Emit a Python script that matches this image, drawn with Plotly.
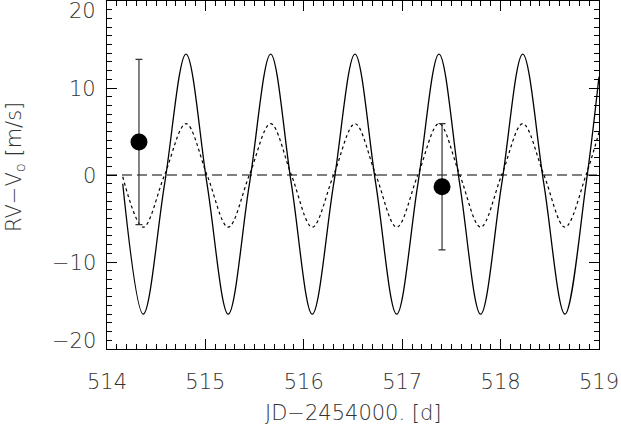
import plotly.graph_objects as go

# extrema and mean-level crossings of the two model curves
model_x = [514.16, 514.368, 514.585, 514.803, 515.017, 515.232, 515.447, 515.663,
           515.874, 516.086, 516.303, 516.52, 516.732, 516.944, 517.159, 517.374,
           517.585, 517.797, 518.011, 518.225, 518.44, 518.654, 518.868, 519.0]
model_full = [-1.0, -16.0, -1.05, 13.9, -1.05, -16.0, -1.05, 13.9,
              -1.05, -16.0, -1.05, 13.9, -1.05, -16.0, -1.05, 13.9,
              -1.05, -16.0, -1.05, 13.9, -1.05, -16.0, -1.05, 11.3]
model_small = [-0.2, -6.0, 0.0, 5.9, 0.0, -6.0, 0.0, 5.9,
               0.0, -6.0, 0.0, 5.9, 0.0, -6.0, 0.0, 5.9,
               0.0, -6.0, 0.0, 5.9, 0.0, -6.0, 0.0, 4.9]

# observations
obs_x = [514.325, 517.405]
obs_rv = [3.8, -1.35]
obs_err = [9.5, 7.25]

x_ticks = [514, 515, 516, 517, 518, 519]
y_ticks = [-20, -10, 0, 10, 20]

FONT = dict(family="DejaVu Sans", size=21, color="#333333", weight=300)

fig = go.Figure()
fig.add_trace(go.Scatter(
    x=[514, 519], y=[0, 0], mode="lines",
    line=dict(color="#555555", width=1.5, dash="10px,5px"),
))
fig.add_trace(go.Scatter(
    x=model_x, y=model_small, mode="lines",
    line=dict(color="black", width=1.2, dash="dot", shape="spline", smoothing=1.0),
))
fig.add_trace(go.Scatter(
    x=model_x, y=model_full, mode="lines",
    line=dict(color="black", width=1.3, shape="spline", smoothing=1.0),
))
fig.add_trace(go.Scatter(
    x=obs_x, y=obs_rv, mode="markers",
    marker=dict(color="black", size=17),
    error_y=dict(type="data", array=obs_err, color="#333333", thickness=1.2, width=3.5),
))

# y tick labels as annotations (IDL keeps the end labels inside the frame)
shifts = {20: -10, -20: 8}
for v in y_ticks:
    fig.add_annotation(
        x=0, xref="paper", xanchor="right", xshift=-9,
        y=v, yref="y", yanchor="middle", yshift=shifts.get(v, -1),
        text=str(v).replace("-", "\u2212"), showarrow=False, font=FONT,
    )

fig.add_annotation(
    x=0.5, xref="paper", y=0, yref="paper", yshift=-50, yanchor="top",
    text="JD\u22122454000. [d]", showarrow=False, font=FONT,
)
fig.add_annotation(
    x=0, xref="paper", xshift=-92, xanchor="center",
    y=0.5, yref="paper", yshift=8, textangle=-90,
    text="RV\u2212V<sub>o</sub> [m/s]", showarrow=False, font=FONT,
)

fig.update_xaxes(
    range=[514, 519], tickvals=x_ticks, ticktext=[str(t) for t in x_ticks],
    ticks="inside", ticklen=10, tickwidth=1, tickcolor="black",
    minor=dict(ticks="inside", dtick=0.1, ticklen=5, tickwidth=1, tickcolor="black"),
    showline=True, linecolor="black", linewidth=1, mirror="allticks",
    showgrid=False, zeroline=False, tickfont=FONT, ticklabelstandoff=14,
    automargin=False,
)
fig.update_yaxes(
    range=[-20, 20], tickvals=y_ticks, showticklabels=False,
    ticks="inside", ticklen=10, tickwidth=1, tickcolor="black",
    minor=dict(ticks="inside", dtick=1, ticklen=5, tickwidth=1, tickcolor="black"),
    showline=True, linecolor="black", linewidth=1, mirror="allticks",
    showgrid=False, zeroline=False, automargin=False,
)
fig.update_layout(
    width=621, height=426, showlegend=False,
    margin=dict(l=107, r=22, t=1, b=77),
    plot_bgcolor="white", paper_bgcolor="white",
)
fig.write_html("out.html", config={"displayModeBar": False},
               post_script="document.body.style.margin='0';")
